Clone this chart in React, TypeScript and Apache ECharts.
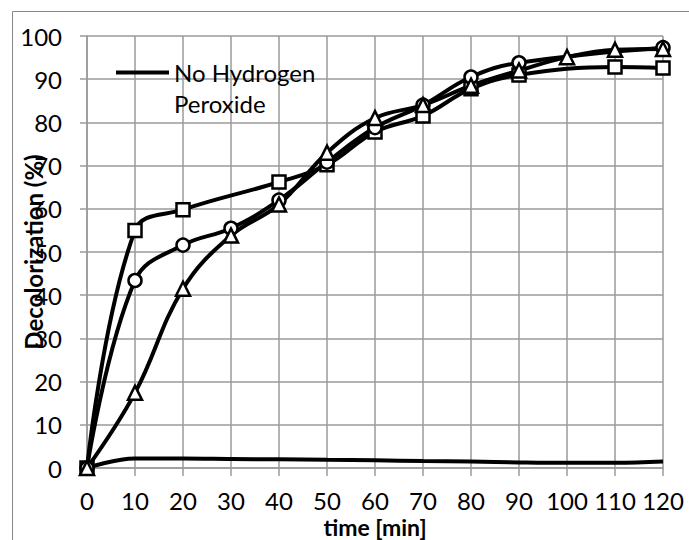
import React, { useEffect, useRef } from "react";
import * as echarts from "echarts";

const timeTicks = [0, 10, 20, 30, 40, 50, 60, 70, 80, 90, 100, 110, 120];

const noH2O2Times = [0, 10, 20, 30, 40, 50, 60, 70, 80, 90, 100, 110, 120];
const noH2O2Vals = [0, 2.2, 2.2, 2.1, 2.0, 1.9, 1.8, 1.6, 1.5, 1.3, 1.2, 1.2, 1.5];

const squareTimes = [0, 10, 20, 40, 50, 60, 70, 80, 90, 110, 120];
const squareVals = [0, 55, 59.8, 66.2, 70.2, 77.8, 81.5, 87.8, 91, 92.8, 92.6];

const circleTimes = [0, 10, 20, 30, 40, 50, 60, 70, 80, 90, 120];
const circleVals = [0, 43.4, 51.6, 55.5, 62, 70.8, 78.8, 84, 90.5, 93.8, 97.3];

const triangleTimes = [0, 10, 20, 30, 40, 50, 60, 70, 80, 90, 100, 110, 120];
const triangleVals = [0, 17.4, 41.5, 53.8, 61, 73, 81, 84, 88.5, 92, 95.1, 96.8, 97];

const legendName = "No Hydrogen Peroxide";

const pairs = (xs: number[], ys: number[]) => xs.map((x, i) => [x, ys[i]]);

const FONT = "Lato";
const FS = 24;
const GRID = "#9a9a9a";

export default function App() {
  const ref = useRef<HTMLDivElement>(null);
  useEffect(() => {
    document.body.style.margin = "0";
    const chart = echarts.init(ref.current!, undefined, { renderer: "svg" });
    const markerSeries = (name: string, data: number[][], symbol: string, size: number) => ({
      name,
      type: "line",
      data,
      smooth: 0.4,
      clip: false,
      symbol,
      symbolSize: size,
      showAllSymbol: true,
      lineStyle: { color: "#000", width: 4 },
      itemStyle: { color: "#fff", borderColor: "#000", borderWidth: 2.5 },
      z: 3,
    });
    chart.setOption({
      animation: false,
      textStyle: { fontFamily: FONT },
      graphic: [
        {
          type: "rect",
          z: -10,
          shape: { x: 12.5, y: 11.5, width: 900, height: 900 },
          style: { fill: "none", stroke: "#898989", lineWidth: 1 },
        },
      ],
      grid: { left: 87, top: 36, right: 26, bottom: 72, containLabel: false, outerBoundsMode: "none" },
      legend: {
        data: [{ name: legendName, icon: "rect", itemStyle: { color: "#000" } }],
        left: 116,
        top: 26,
        padding: 0,
        itemWidth: 53,
        itemHeight: 4,
        itemGap: 5,
        formatter: () => " \nNo Hydrogen\nPeroxide",
        textStyle: {
          fontFamily: FONT,
          fontSize: FS,
          color: "#000",
          lineHeight: 31,
        },
      },
      xAxis: {
        type: "value",
        min: 0,
        max: 120,
        interval: 10,
        name: "time [min]",
        nameLocation: "middle",
        nameGap: 47,
        nameMoveOverlap: false,
        nameTextStyle: { fontFamily: FONT, fontSize: 23, fontWeight: "bold", color: "#000", lineHeight: 23 },
        axisLine: { show: true, lineStyle: { color: GRID, width: 1.5 } },
        axisTick: { show: true, length: 8, lineStyle: { color: GRID, width: 1.5 } },
        axisLabel: {
          margin: 20,
          fontFamily: FONT,
          fontSize: FS,
          lineHeight: 24,
          color: "#000",
          formatter: (v: number) => (timeTicks.includes(v) ? String(v) : ""),
        },
        splitLine: { show: true, lineStyle: { color: GRID, width: 1.5 } },
      },
      yAxis: {
        type: "value",
        min: 0,
        max: 100,
        interval: 10,
        name: "Decolorization (%)",
        nameLocation: "middle",
        nameGap: 42,
        nameMoveOverlap: false,
        nameTextStyle: { fontFamily: FONT, fontSize: FS, fontWeight: "bold", color: "#000" },
        axisLine: { show: true, lineStyle: { color: GRID, width: 1.5 } },
        axisTick: { show: true, length: 7, lineStyle: { color: GRID, width: 1.5 } },
        axisLabel: { margin: 25, fontFamily: FONT, fontSize: FS, color: "#000" },
        splitLine: { show: true, lineStyle: { color: GRID, width: 1.5 } },
      },
      series: [
        {
          name: legendName,
          type: "line",
          data: pairs(noH2O2Times, noH2O2Vals),
          smooth: 0.4,
          clip: false,
          symbol: "none",
          lineStyle: { color: "#000", width: 4 },
          itemStyle: { color: "#000" },
          z: 2,
        },
        markerSeries("Square", pairs(squareTimes, squareVals), "rect", 13),
        markerSeries("Circle", pairs(circleTimes, circleVals), "circle", 13),
        markerSeries("Triangle", pairs(triangleTimes, triangleVals), "triangle", 14),
      ],
    });
    return () => chart.dispose();
  }, []);
  return <div ref={ref} style={{ width: 689, height: 540 }} />;
}
